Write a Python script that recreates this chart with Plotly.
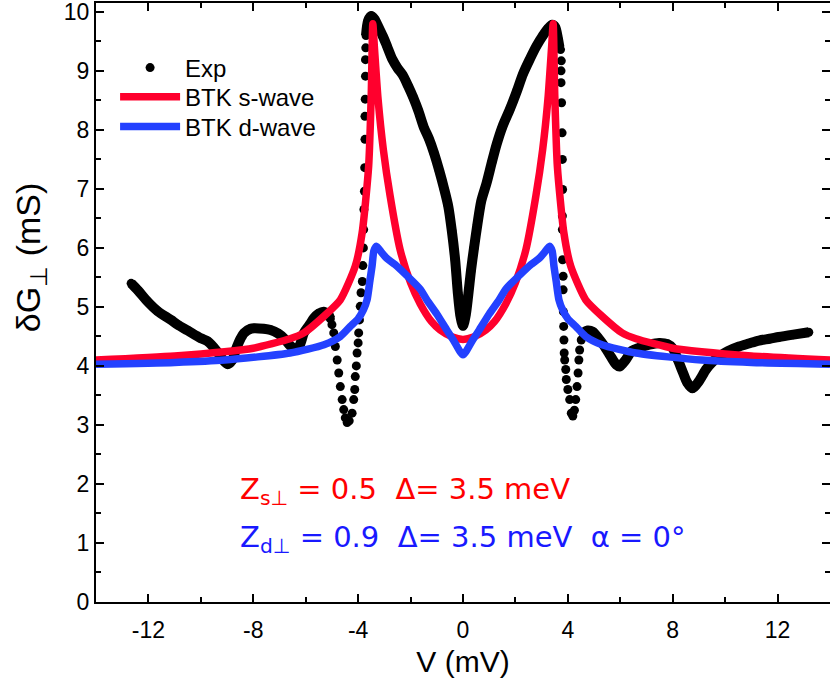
import plotly.graph_objects as go

# ---------------- data ----------------
# Experimental data: dense parts (drawn as thick dotted line) and steep parts (separate dots)
exp_left_v = [-12.66, -12.4, -12.03, -11.65, -11.14, -10.89, -10.5, -10.0, -9.75, -9.37, -9.15, -8.98,
              -8.8, -8.67, -8.5, -8.35, -8.1, -7.97, -7.6, -7.34, -7.05, -6.83, -6.58, -6.35, -6.2,
              -6.07, -5.85, -5.69, -5.5, -5.31, -5.15, -5.06]
exp_left_g = [5.40, 5.28, 5.09, 4.93, 4.78, 4.70, 4.60, 4.47, 4.42, 4.24, 4.10, 4.03,
              4.10, 4.27, 4.45, 4.56, 4.63, 4.64, 4.63, 4.61, 4.55, 4.47, 4.34, 4.27, 4.38,
              4.56, 4.70, 4.81, 4.89, 4.92, 4.88, 4.80]

exp_dipL_v = [-5.0, -4.93, -4.87, -4.80, -4.74, -4.68, -4.61, -4.55, -4.49, -4.42, -4.34, -4.23,
              -4.17, -4.13, -4.11, -4.07, -4.04, -4.00, -3.98, -3.95, -3.92, -3.89, -3.84, -3.82,
              -3.80, -3.79, -3.78, -3.76, -3.75, -3.74, -3.74, -3.73, -3.72, -3.72, -3.71]
exp_dipL_g = [4.70, 4.56, 4.33, 4.10, 3.88, 3.65, 3.43, 3.26, 3.12, 3.04, 3.07, 3.20,
              3.43, 3.60, 3.82, 4.00, 4.22, 4.39, 4.56, 4.78, 5.01, 5.24, 5.43, 5.70,
              6.00, 6.31, 6.65, 6.96, 7.36, 7.84, 8.23, 8.52, 8.91, 9.19, 9.39]

exp_mid_v = [-3.70, -3.62, -3.50, -3.38, -3.20, -3.05, -2.90, -2.70, -2.50, -2.30, -2.10, -1.90,
             -1.70, -1.50, -1.30, -1.10, -0.90, -0.72, -0.56, -0.43, -0.30, -0.20, -0.10, 0.0,
             0.10, 0.20, 0.30, 0.42, 0.55, 0.70, 0.90, 1.10, 1.28, 1.50, 1.79, 2.05, 2.29, 2.55,
             2.80, 3.05, 3.25, 3.40, 3.52, 3.62, 3.68]
exp_mid_g = [9.60, 9.85, 9.93, 9.88, 9.72, 9.58, 9.42, 9.20, 9.05, 8.93, 8.75, 8.55,
             8.32, 8.05, 7.85, 7.60, 7.30, 7.00, 6.70, 6.30, 5.80, 5.25, 4.85, 4.68,
             4.85, 5.20, 5.60, 6.00, 6.40, 6.80, 7.10, 7.45, 7.75, 8.05, 8.35, 8.65, 8.95, 9.20,
             9.42, 9.60, 9.72, 9.78, 9.74, 9.55, 9.40]

exp_dipR_v = [3.72, 3.75, 3.74, 3.74, 3.76, 3.78, 3.79, 3.80, 3.79, 3.79, 3.80, 3.82, 3.82,
              3.83, 3.84, 3.85, 3.86, 3.88, 3.92, 3.94, 4.00, 4.07, 4.13, 4.19, 4.25, 4.30,
              4.35, 4.39, 4.42, 4.45, 4.51]
exp_dipR_g = [9.36, 9.17, 9.00, 8.80, 8.46, 7.95, 7.50, 6.99, 6.54, 6.31, 5.80, 5.52, 5.29,
              4.92, 4.67, 4.44, 4.22, 4.10, 3.94, 3.77, 3.60, 3.43, 3.20, 3.15, 3.25, 3.43,
              3.65, 3.88, 4.10, 4.27, 4.44]

exp_right_v = [4.57, 4.75, 4.95, 5.15, 5.40, 5.65, 5.85, 5.97, 6.20, 6.45, 6.73, 7.10, 7.49,
               7.80, 8.00, 8.20, 8.38, 8.55, 8.76, 9.00, 9.27, 9.50, 9.77, 10.10, 10.53,
               10.90, 11.29, 11.70, 12.05, 12.60, 13.19]
exp_right_g = [4.56, 4.60, 4.58, 4.48, 4.33, 4.15, 4.02, 3.99, 4.10, 4.26, 4.31, 4.36, 4.39,
               4.37, 4.30, 4.10, 3.90, 3.72, 3.62, 3.74, 3.94, 4.06, 4.16, 4.25, 4.33,
               4.38, 4.43, 4.46, 4.49, 4.53, 4.57]

# BTK s-wave fit (symmetric in V)
s_v = [-14.0, -11.0, -9.1, -8.0, -6.6, -6.07, -5.31, -4.68, -4.11, -3.85, -3.60, -3.50, -3.44,
       -3.38, -3.24, -3.04, -2.78, -2.40, -2.00, -1.63, -1.20, -0.87, -0.40, 0.0,
       0.40, 0.87, 1.20, 1.63, 2.00, 2.40, 2.78, 3.04, 3.24, 3.38, 3.44, 3.50, 3.60, 3.85,
       4.11, 4.68, 5.31, 6.07, 6.6, 8.0, 9.1, 11.0, 14.0]
s_g = [4.10, 4.17, 4.24, 4.30, 4.46, 4.56, 4.84, 5.12, 5.69, 6.25, 7.38, 8.60, 9.80,
       9.40, 8.52, 7.67, 6.88, 5.97, 5.41, 5.05, 4.75, 4.61, 4.49, 4.45,
       4.49, 4.61, 4.75, 5.05, 5.41, 5.97, 6.88, 7.67, 8.52, 9.40, 9.80, 8.60, 7.38, 6.25,
       5.69, 5.12, 4.84, 4.56, 4.46, 4.30, 4.24, 4.17, 4.10]

# BTK d-wave fit (symmetric in V)
d_v = [-14.0, -11.0, -9.1, -6.6, -5.3, -4.68, -4.30, -4.00, -3.80, -3.66, -3.55, -3.47, -3.40,
       -3.30, -3.10, -2.90, -2.60, -2.14, -1.63, -1.38, -1.00, -0.62, -0.37, 0.0,
       0.37, 0.62, 1.00, 1.38, 1.63, 2.14, 2.60, 2.90, 3.10, 3.30, 3.40, 3.47, 3.55, 3.66,
       3.80, 4.00, 4.30, 4.68, 5.3, 6.6, 9.1, 11.0, 14.0]
d_g = [4.03, 4.06, 4.10, 4.22, 4.36, 4.50, 4.67, 4.80, 4.95, 5.12, 5.45, 5.69, 5.95,
       6.03, 5.92, 5.82, 5.72, 5.53, 5.30, 5.12, 4.88, 4.61, 4.44, 4.19,
       4.44, 4.61, 4.88, 5.12, 5.30, 5.53, 5.72, 5.82, 5.92, 6.03, 5.95, 5.69, 5.45, 5.12,
       4.95, 4.80, 4.67, 4.50, 4.36, 4.22, 4.10, 4.06, 4.03]

x_ticks = [-12, -8, -4, 0, 4, 8, 12]
y_ticks = [0, 1, 2, 3, 4, 5, 6, 7, 8, 9, 10]

# ---------------- figure ----------------
BLACK = "#000000"
RED = "rgb(255,0,45)"
BLUE = "rgb(35,65,255)"
FONT = "Liberation Sans, Arial, sans-serif"

fig = go.Figure()

# Experimental dots (legend entry)
dots_v = exp_left_v + exp_dipL_v + exp_mid_v + exp_dipR_v + exp_right_v
dots_g = exp_left_g + exp_dipL_g + exp_mid_g + exp_dipR_g + exp_right_g
fig.add_trace(go.Scatter(x=dots_v, y=dots_g, mode="markers", name="Exp",
                         marker=dict(color=BLACK, size=9), legendgroup="exp", legend="legend"))
# dense parts of the experimental curve
dense_v = exp_left_v + [None] + exp_mid_v + [None] + exp_right_v
dense_g = exp_left_g + [None] + exp_mid_g + [None] + exp_right_g
fig.add_trace(go.Scatter(x=dense_v, y=dense_g, mode="lines", showlegend=False,
                         line=dict(color=BLACK, width=10, shape="spline", smoothing=0.8),
                         legendgroup="exp", connectgaps=False))

fig.add_trace(go.Scatter(x=s_v, y=s_g, mode="lines", name="BTK s-wave", legend="legend2",
                         line=dict(color=RED, width=7.5, shape="spline", smoothing=0.6)))
fig.add_trace(go.Scatter(x=d_v, y=d_g, mode="lines", name="BTK d-wave", legend="legend3",
                         line=dict(color=BLUE, width=7.5, shape="spline", smoothing=0.6)))

axis_common = dict(showline=True, linecolor="black", linewidth=2, mirror="ticks",
                   ticks="inside", ticklen=8, tickwidth=2, tickcolor="black",
                   showgrid=False, zeroline=False, automargin=False,
                   ticklabeloverflow="allow",
                   tickfont=dict(family=FONT, size=23, color="black"))

fig.update_xaxes(range=[-14, 14], tickvals=x_ticks, ticktext=[str(t) for t in x_ticks],
                 ticklabelstandoff=6,
                 minor=dict(dtick=2, tick0=0, ticks="inside", ticklen=5, tickwidth=2, tickcolor="black"),
                 title=dict(text="V (mV)", font=dict(family=FONT, size=30, color="black"), standoff=9),
                 **axis_common)
fig.update_yaxes(range=[0, 10.15], tickvals=y_ticks, ticktext=[str(t) for t in y_ticks],
                 minor=dict(dtick=0.5, tick0=0, ticks="inside", ticklen=5, tickwidth=2, tickcolor="black"),
                 **axis_common)

# y-axis title (placed as in the reference, above the axis centre)
fig.add_annotation(x=-0.0899, y=0.574, xref="paper", yref="paper", xanchor="center", yanchor="middle",
                   text="δG<sub>⊥</sub> (mS)", textangle=-90, showarrow=False,
                   font=dict(family=FONT, size=34, color="black"))

fig.add_annotation(x=-8.6, y=1.88, xref="x", yref="y", xanchor="left", yanchor="middle",
                   text="Z<sub>s⊥</sub> = 0.5  Δ= 3.5 meV", showarrow=False,
                   font=dict(family="DejaVu Sans", size=29, color="rgb(255,0,0)"))
fig.add_annotation(x=-8.6, y=1.06, xref="x", yref="y", xanchor="left", yanchor="middle",
                   text="Z<sub>d⊥</sub> = 0.9  Δ= 3.5 meV  α = 0°", showarrow=False,
                   font=dict(family="DejaVu Sans", size=29, color="rgb(25,25,255)"))

leg_common = dict(x=0.026, xanchor="left", yanchor="middle", bgcolor="rgba(0,0,0,0)",
                  borderwidth=0, font=dict(family=FONT, size=24, color="black"), itemwidth=60)

fig.update_layout(
    width=830, height=693,
    margin=dict(l=96, r=0, t=3, b=91, autoexpand=False),
    paper_bgcolor="white", plot_bgcolor="white",
    showlegend=True,
    legend=dict(y=0.8915, **leg_common),
    legend2=dict(y=0.843, **leg_common),
    legend3=dict(y=0.793, **leg_common),
)

fig.write_html("out.html", config={"displayModeBar": False},
               post_script="document.body.style.margin='0px';")
